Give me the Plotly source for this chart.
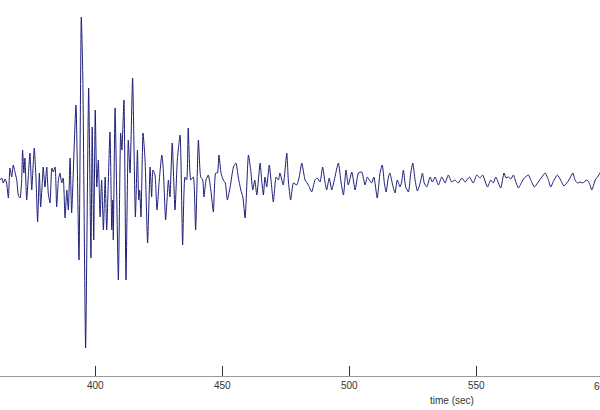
import plotly.graph_objects as go

# Seismogram: times (s) of local extremes and ground-motion amplitude (arbitrary counts)
time_sec = [
    362.5, 363.2, 363.8, 364.5, 365.1, 365.8, 366.4, 367.1, 367.7, 368.4,
    369.1, 369.7, 370.4, 371.0, 371.4, 371.9, 372.3, 373.0, 373.6, 374.3,
    375.0, 375.6, 376.0, 376.7, 377.3, 378.0, 378.5, 379.2, 379.5, 380.2,
    380.9, 381.5, 382.2, 382.9, 383.5, 384.2, 384.8, 385.5, 386.1, 386.8,
    387.4, 388.1, 388.8, 389.4, 390.1, 390.7,
    392.4, 393.6, 394.5, 395.1, 396.2, 397.4, 398.3, 398.8, 399.4, 400.0,
    400.6, 401.2, 401.9, 402.5, 403.2, 403.9, 404.5, 405.8, 406.5, 406.9,
    407.1, 407.8, 409.1, 410.0, 410.5, 411.3, 412.1, 413.0, 413.7, 414.7,
    415.8, 416.6, 417.1, 417.5, 418.0, 418.8, 419.6, 420.6, 421.6, 422.2,
    422.7, 423.5, 424.3, 425.2, 426.2, 426.8, 427.7, 428.8, 429.4, 430.3,
    431.4, 432.3, 433.4, 434.4, 435.3, 436.0, 436.6, 437.6, 438.6, 439.5,
    440.6, 441.5, 442.3, 442.8, 443.6, 444.5, 445.5, 446.5, 447.4, 448.1,
    448.7, 449.5, 450.4, 451.2, 452.0, 453.1, 454.4, 455.4, 456.3, 457.3,
    458.1, 459.0, 460.3, 461.2, 462.0, 462.8, 463.6, 464.9, 465.5, 466.2,
    466.8, 467.5, 468.5, 469.3, 470.1, 471.2, 472.1, 472.7, 474.0, 475.4,
    476.0, 476.9, 478.0, 479.3, 480.3, 481.3, 482.6, 483.9, 485.2, 486.5,
    487.4, 488.5, 489.5, 490.5, 491.1, 492.1, 493.1, 494.1, 495.7, 496.8,
    497.7, 498.7, 499.6, 501.0, 502.3, 503.6, 504.9, 506.2, 507.1, 507.9,
    508.8, 509.7, 511.0, 512.1, 513.0, 513.8, 514.5, 515.4, 516.0, 516.9,
    518.0, 518.9, 520.0, 520.6, 521.3, 522.2, 523.3, 524.2, 525.0, 525.9,
    526.8, 527.9, 528.8, 529.5, 530.5, 531.8, 532.7, 533.8, 535.1, 536.4,
    537.7, 539.0, 540.3, 541.6, 542.9, 544.3, 545.6, 547.3, 548.8, 550.2,
    551.5, 552.5, 554.4, 555.7, 556.7, 557.7, 559.6, 560.9, 561.7, 562.6,
    563.6, 564.6, 565.7, 566.6, 567.9, 568.9, 570.5, 571.8, 572.9, 574.4,
    575.8, 577.1, 578.4, 579.3, 580.6, 581.9, 583.2, 584.5, 585.9, 586.9,
    588.0, 588.9, 589.8, 590.8, 591.9, 593.5, 594.5, 595.5, 596.8, 597.7,
    598.7, 599.5,
]

amplitude = [
    0, 2, -3, 1, -3, -18, 12, 3, 15, 8,
    0, -15, -18, -2, 30, 7, 22, -20, 2, 27,
    -10, 17, 32, 0, -42, 7, -27, 0, 13, -7,
    13, -13, -23, 12, 8, 13, -27, 0, 7, -3,
    2, -38, -10, -30, 22, -33,
    75, -80, 163, 103, -168, 92, -78, 53, -60, 70,
    -7, 20, -37, 0, -50, 3, -50, 48, -50, -20,
    -60, 72, -100, 47, 30, 80, -100, 40, 7, 102,
    -37, 30, -20, -10, -37, 47, 20, -63, 13, -17,
    10, 5, -30, 0, 25, 10, -40, 0, -17, 37,
    -30, 20, 45, -65, 3, 0, 52, 0, 3, -50,
    40, 3, 0, -17, 0, 5, -10, -32, 7, 7,
    25, 7, 0, -3, -20, -7, 13, 17, 3, -10,
    -17, -38, 25, 10, -10, 0, -15, 17, 0, -15,
    3, -7, 15, -3, -22, 3, 0, 7, -5, 27,
    0, -20, -3, -5, 3, 17, 0, -5, -12, 0,
    2, -2, 13, -3, -10, 2, -10, 0, 17, -3,
    -15, 10, -5, 8, -10, 7, 8, -5, 3, 0,
    -3, 3, -18, 7, 15, -3, -12, 3, 7, -3,
    -13, 0, -7, -2, 10, -7, -12, 7, 17, 0,
    -11, -3, 7, -3, -7, 3, -2, 3, -5, 3,
    -3, 5, -2, 0, -3, 2, -2, 3, -3, 5,
    2, 5, -7, 0, -3, 3, -8, 7, 2, 3,
    1, 5, -3, -8, -2, 2, 5, -2, -7, -2,
    3, 7, 0, -7, 0, 5, 0, -6, -2, 2,
    7, 0, -3, -2, -3, 0, -3, -10, 0, 3,
    7, 12,
]

tick_vals = [400, 450, 500, 550]
tick_text = ["400", "450", "500", "550"]
x_range = [362.5, 598.7]
y_range = [-196, 180]

fig = go.Figure()
fig.add_trace(go.Scatter(
    x=time_sec, y=amplitude, mode="lines",
    line=dict(color="#1e1e78", width=1, shape="spline", smoothing=0.5),
    hoverinfo="skip", showlegend=False,
))

fig.update_layout(
    width=600, height=410,
    margin=dict(l=0, r=0, t=0, b=34, autoexpand=False),
    paper_bgcolor="white", plot_bgcolor="white",
    font=dict(family="Liberation Sans, Arial, sans-serif", size=10, color="#333"),
    xaxis=dict(
        range=x_range, showgrid=False, zeroline=False, automargin=False,
        showline=True, linecolor="#999", linewidth=1,
        ticks="inside", ticklen=10, tickcolor="#333", tickwidth=1,
        tickvals=tick_vals, ticktext=tick_text,
        tickfont=dict(size=10, color="#333"),
    ),
    yaxis=dict(range=y_range, visible=False),
    annotations=[
        dict(text="600", xref="paper", yref="paper", x=603 / 600, y=-10 / 376,
             xanchor="center", yanchor="middle", showarrow=False,
             font=dict(size=10, color="#333")),
        dict(text="time (sec)", xref="paper", yref="paper", x=452 / 600, y=-24 / 376,
             xanchor="center", yanchor="middle", showarrow=False,
             font=dict(size=10, color="#333")),
    ],
)

fig.write_html(
    "out.html",
    config={"displayModeBar": False},
    post_script="document.body.style.margin='0';document.body.style.overflow='hidden';",
)
